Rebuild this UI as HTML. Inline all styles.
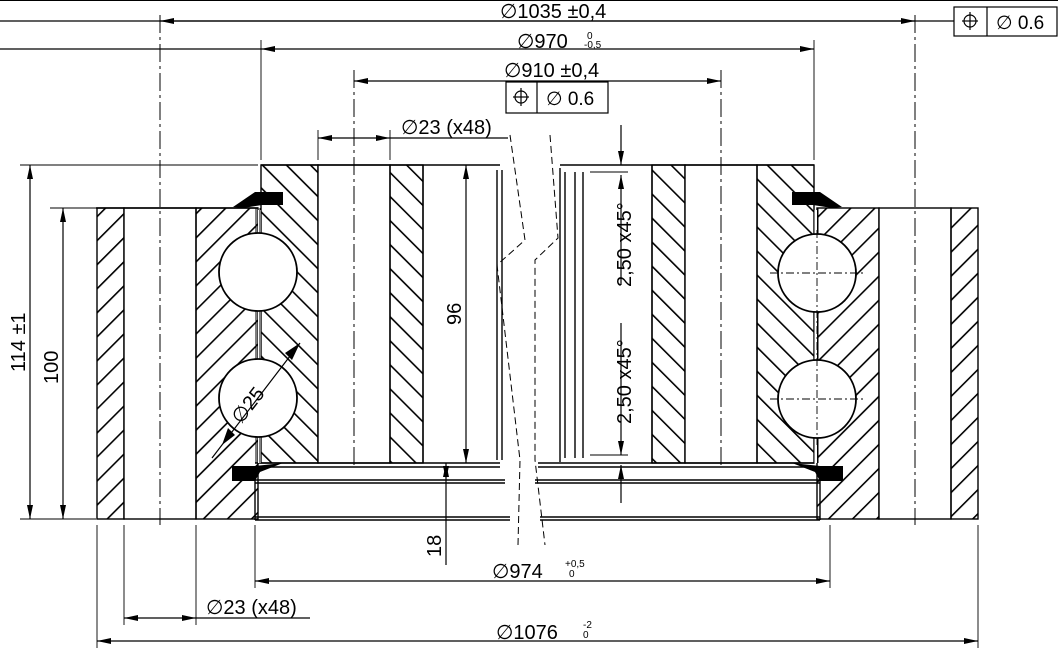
<!DOCTYPE html>
<html><head><meta charset="utf-8"><style>
html,body{margin:0;padding:0;background:#fff;}
svg{display:block;}
text{font-family:"Liberation Sans",sans-serif;fill:#000;font-size:20px;}
text.s{font-size:10px;}
text.m{font-size:19px;}
</style></head><body>
<svg width="1058" height="657" viewBox="0 0 1058 657" xmlns="http://www.w3.org/2000/svg">
<defs>
<pattern id="hf" patternUnits="userSpaceOnUse" width="17" height="17" patternTransform="rotate(45)">
<rect x="0" y="0" width="1.6" height="17" fill="#000"/></pattern>
<pattern id="hb" patternUnits="userSpaceOnUse" width="17" height="17" patternTransform="rotate(-45)">
<rect x="0" y="0" width="1.6" height="17" fill="#000"/></pattern>
<marker id="a" viewBox="0 0 14 6" refX="14" refY="3" markerWidth="14" markerHeight="6" orient="auto-start-reverse" markerUnits="userSpaceOnUse"><path d="M0,0L14,3L0,6Z" fill="#000"/></marker>
</defs>
<line x1="0" y1="0.5" x2="1058" y2="0.5" stroke="#000"/>
<g stroke="#000" stroke-width="1.4">
<rect x="97" y="208" width="27" height="311" fill="url(#hf)"/>
<rect x="124" y="208" width="72" height="311" fill="#fff"/>
<rect x="196" y="208" width="62" height="311" fill="url(#hf)"/>
<rect x="261" y="165" width="57" height="298" fill="url(#hb)"/>
<rect x="318" y="165" width="72" height="298" fill="#fff"/>
<rect x="390" y="165" width="33" height="298" fill="url(#hb)"/>
<rect x="652" y="165" width="33" height="298" fill="url(#hb)"/>
<rect x="685" y="165" width="72" height="298" fill="#fff"/>
<rect x="757" y="165" width="57" height="298" fill="url(#hb)"/>
<rect x="817" y="208" width="62" height="311" fill="url(#hf)"/>
<rect x="879" y="208" width="72" height="311" fill="#fff"/>
<rect x="951" y="208" width="27" height="311" fill="url(#hf)"/>
</g>
<g fill="none" stroke="#000" stroke-width="1.4">
<line x1="258" y1="208" x2="96" y2="208"/>
<line x1="261" y1="165" x2="500" y2="165"/>
<line x1="560" y1="165" x2="814" y2="165"/>
<line x1="255" y1="463" x2="500" y2="463"/><line x1="255" y1="467" x2="500" y2="467"/>
<line x1="538" y1="463" x2="814" y2="463"/><line x1="538" y1="467" x2="814" y2="467"/>
<line x1="255" y1="480" x2="505" y2="480"/><line x1="255" y1="483" x2="505" y2="483"/>
<line x1="535" y1="480" x2="820" y2="480"/><line x1="535" y1="483" x2="820" y2="483"/>
<line x1="255" y1="517" x2="510" y2="517"/><line x1="255" y1="520" x2="510" y2="520"/>
<line x1="540" y1="517" x2="820" y2="517"/><line x1="540" y1="520" x2="820" y2="520"/>
<line x1="255" y1="467" x2="255" y2="520"/>
<line x1="820" y1="467" x2="820" y2="520"/>
<line x1="497" y1="170" x2="497" y2="460"/><line x1="502" y1="170" x2="502" y2="460"/>
<line x1="560" y1="168" x2="560" y2="462"/><line x1="565" y1="172" x2="565" y2="458"/>
<line x1="575" y1="172" x2="575" y2="458"/><line x1="583" y1="172" x2="583" y2="458"/>
<line x1="423" y1="165" x2="423" y2="463"/><line x1="652" y1="165" x2="652" y2="463"/>
</g>
<rect x="258" y="210" width="3" height="253" fill="#fff"/>
<rect x="814" y="210" width="3" height="253" fill="#fff"/>
<g stroke="#000" stroke-width="1"><line x1="256" y1="208" x2="256" y2="463"/><line x1="260" y1="208" x2="260" y2="463"/>
<line x1="814" y1="208" x2="814" y2="463"/><line x1="818" y1="208" x2="818" y2="463"/></g>
<g fill="#fff" stroke="#000" stroke-width="1.8">
<circle cx="258" cy="272" r="39"/><circle cx="258" cy="398" r="39"/>
<circle cx="817" cy="273" r="39"/><circle cx="817" cy="399" r="39"/>
</g>
<g fill="none" stroke="#000" stroke-width="0.9" stroke-dasharray="8,3,2,3">
<line x1="770" y1="273" x2="865" y2="273"/><line x1="770" y1="399" x2="865" y2="399"/>
<line x1="817" y1="230" x2="817" y2="445"/>
</g>
<g fill="#000">
<path d="M233,207 L255,192 L283,192 L283,205 L262,205 L243,208Z"/>
<path d="M232,466 L255,466 L283,463 L260,472 L255,481 L232,481Z"/>
<path d="M842,207 L820,192 L792,192 L792,205 L813,205 L832,208Z"/>
<path d="M843,466 L820,466 L792,463 L815,472 L820,481 L843,481Z"/>
</g>
<g fill="none" stroke="#000" stroke-width="1" stroke-dasharray="7,4">
<path d="M510,135 L525,240 L497,265 L520,460 L518,545"/>
<path d="M550,135 L558,238 L535,260 L535,460 L545,545"/>
</g>
<g stroke="#000" stroke-width="1" stroke-dasharray="18,4,3,4">
<line x1="160" y1="15" x2="160" y2="525"/><line x1="354" y1="70" x2="354" y2="465"/>
<line x1="721" y1="70" x2="721" y2="465"/><line x1="915" y1="15" x2="915" y2="525"/>
</g>
<g stroke="#000" stroke-width="0.9">
<line x1="261" y1="40" x2="261" y2="160"/><line x1="814" y1="40" x2="814" y2="160"/>
<line x1="318" y1="130" x2="318" y2="160"/><line x1="390" y1="130" x2="390" y2="160"/>
<line x1="97" y1="525" x2="97" y2="648"/><line x1="978" y1="525" x2="978" y2="648"/>
<line x1="124" y1="525" x2="124" y2="625"/><line x1="196" y1="525" x2="196" y2="625"/>
<line x1="255" y1="525" x2="255" y2="588"/><line x1="830" y1="525" x2="830" y2="588"/>
<line x1="20" y1="165" x2="258" y2="165"/><line x1="20" y1="519" x2="96" y2="519"/>
<line x1="50" y1="208" x2="96" y2="208"/>
<line x1="590" y1="172" x2="628" y2="172"/><line x1="590" y1="455" x2="628" y2="455"/>
</g>
<g stroke="#000" stroke-width="1.2" fill="none">
<line x1="0" y1="21" x2="954" y2="21"/>
<line x1="160" y1="21" x2="915" y2="21" marker-start="url(#a)" marker-end="url(#a)"/>
<line x1="0" y1="49" x2="261" y2="49"/>
<line x1="261" y1="49" x2="814" y2="49" marker-start="url(#a)" marker-end="url(#a)"/>
<line x1="354" y1="81" x2="721" y2="81" marker-start="url(#a)" marker-end="url(#a)"/>
<line x1="318" y1="138" x2="390" y2="138" marker-start="url(#a)" marker-end="url(#a)"/>
<line x1="390" y1="138" x2="508" y2="138"/>
<line x1="30" y1="165" x2="30" y2="519" marker-start="url(#a)" marker-end="url(#a)"/>
<line x1="63" y1="208" x2="63" y2="519" marker-start="url(#a)" marker-end="url(#a)"/>
<line x1="466" y1="165" x2="466" y2="463" marker-start="url(#a)" marker-end="url(#a)"/>
<line x1="446" y1="463" x2="446" y2="480" marker-start="url(#a)" marker-end="url(#a)"/>
<line x1="446" y1="480" x2="446" y2="565"/>
<line x1="621" y1="125" x2="621" y2="165" marker-end="url(#a)"/>
<line x1="621" y1="175" x2="621" y2="285" marker-start="url(#a)"/>
<line x1="621" y1="323" x2="621" y2="455" marker-end="url(#a)"/>
<line x1="621" y1="465" x2="621" y2="503" marker-start="url(#a)"/>
<line x1="255" y1="581" x2="830" y2="581" marker-start="url(#a)" marker-end="url(#a)"/>
<line x1="124" y1="618" x2="196" y2="618" marker-start="url(#a)" marker-end="url(#a)"/>
<line x1="196" y1="618" x2="310" y2="618"/>
<line x1="97" y1="641" x2="978" y2="641" marker-start="url(#a)" marker-end="url(#a)"/>
<line x1="212" y1="458" x2="300" y2="343"/>
</g>
<path d="M300,343 L292,360 L285,353Z M222,445 L228,428 L235,435Z" fill="#000"/>
<g fill="none" stroke="#000" stroke-width="1.2">
<rect x="954" y="7" width="103" height="29"/><line x1="987" y1="7" x2="987" y2="36"/>
<rect x="506" y="82" width="102" height="31"/><line x1="537" y1="82" x2="537" y2="113"/>
<circle cx="970" cy="21" r="6"/><line x1="962" y1="21" x2="978" y2="21"/><line x1="970" y1="12" x2="970" y2="30"/>
<circle cx="521" cy="97" r="6"/><line x1="513" y1="97" x2="529" y2="97"/><line x1="521" y1="88" x2="521" y2="106"/>
</g>
<text x="500" y="18">∅1035 ±0,4</text>
<text x="517" y="48">∅970</text><text class="s" x="587" y="39">0</text><text class="s" x="584" y="48">-0,5</text>
<text x="504" y="77">∅910 ±0,4</text>
<text class="m" x="996" y="29">∅  0.6</text>
<text class="m" x="546" y="105">∅  0.6</text>
<text x="401" y="134">∅23 (x48)</text>
<text x="492" y="578">∅974</text><text class="s" x="565" y="567">+0,5</text><text class="s" x="569" y="577">0</text>
<text x="206" y="614">∅23 (x48)</text>
<text x="496" y="639">∅1076</text><text class="s" x="583" y="628">-2</text><text class="s" x="583" y="638">0</text>
<text transform="translate(25,372) rotate(-90)">114 ±1</text>
<text transform="translate(58,384) rotate(-90)">100</text>
<text transform="translate(461,325) rotate(-90)">96</text>
<text transform="translate(441,557) rotate(-90)">18</text>
<text transform="translate(631,287) rotate(-90)">2,50 x45°</text>
<text transform="translate(631,424) rotate(-90)">2,50 x45°</text>
<text transform="translate(241,425) rotate(-52)">∅25</text>
</svg>
</body></html>
